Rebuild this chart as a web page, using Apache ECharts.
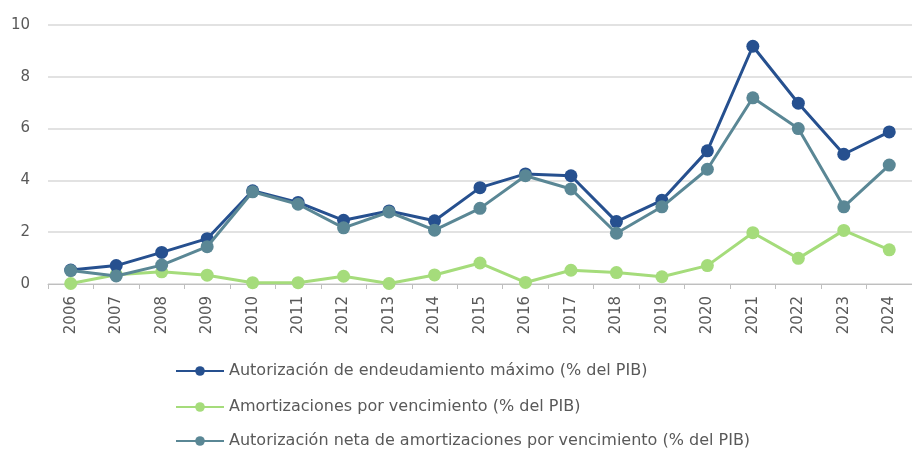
<!DOCTYPE html>
<html><head><meta charset="utf-8">
<script src="https://cdn.jsdelivr.net/npm/echarts@6/dist/echarts.min.js"></script>
<style>html,body{margin:0;padding:0;background:#fff}#c{width:912px;height:451px}</style>
</head><body><div id="c"></div>
<script>
const years = ['2006','2007','2008','2009','2010','2011','2012','2013','2014','2015','2016','2017','2018','2019','2020','2021','2022','2023','2024'];
const autorizacionMax = [0.54,0.71,1.22,1.75,3.6,3.15,2.46,2.82,2.44,3.72,4.25,4.18,2.41,3.23,5.14,9.18,6.98,5.01,5.87];
const amortizaciones = [0.02,0.36,0.47,0.34,0.05,0.05,0.3,0.02,0.35,0.81,0.06,0.53,0.44,0.28,0.71,1.98,0.99,2.07,1.32];
const autorizacionNeta = [0.52,0.31,0.73,1.44,3.56,3.08,2.17,2.78,2.08,2.92,4.18,3.67,1.96,2.98,4.43,7.19,6.0,2.98,4.59];
const names = ['Autorización de endeudamiento máximo (% del PIB)','Amortizaciones por vencimiento (% del PIB)','Autorización neta de amortizaciones por vencimiento (% del PIB)'];
const colors = ['#26508f','#a5dc7b','#5a8795'];
const font = 'DejaVu Sans';
const chart = echarts.init(document.getElementById('c'));
function mk(i, data, z){
  return {name:names[i], type:'line', data:data, z:z, symbol:'circle', symbolSize:13,
    lineStyle:{width:3,color:colors[i]}, itemStyle:{color:colors[i]}, emphasis:{disabled:true}};
}
function lg(i, top){
  return {orient:'vertical', left:175, top:top, itemWidth:48, itemHeight:12, padding:0,
    textStyle:{fontFamily:font,fontSize:16,color:'#595959'}, data:[names[i]]};
}
chart.setOption({
  animation:false,
  color:colors,
  textStyle:{fontFamily:font},
  grid:{left:48,top:25,width:876,height:259,containLabel:false},
  legend:[lg(0,363), lg(1,399), lg(2,433)],
  xAxis:{type:'category', data:years, boundaryGap:true,
    axisLine:{lineStyle:{color:'#bfbfbf',width:1}},
    axisTick:{show:true,lineStyle:{color:'#bfbfbf'},length:5},
    axisLabel:{rotate:90,fontSize:15,color:'#595959',fontFamily:font,margin:12}},
  yAxis:{type:'value', min:0, max:10, interval:2,
    axisLine:{show:false}, axisTick:{show:false},
    splitLine:{lineStyle:{color:'#d9d9d9',width:1.5}},
    axisLabel:{fontSize:15,color:'#595959',fontFamily:font,margin:18}},
  series:[mk(1,amortizaciones,1), mk(0,autorizacionMax,2), mk(2,autorizacionNeta,3)]
});
</script></body></html>
